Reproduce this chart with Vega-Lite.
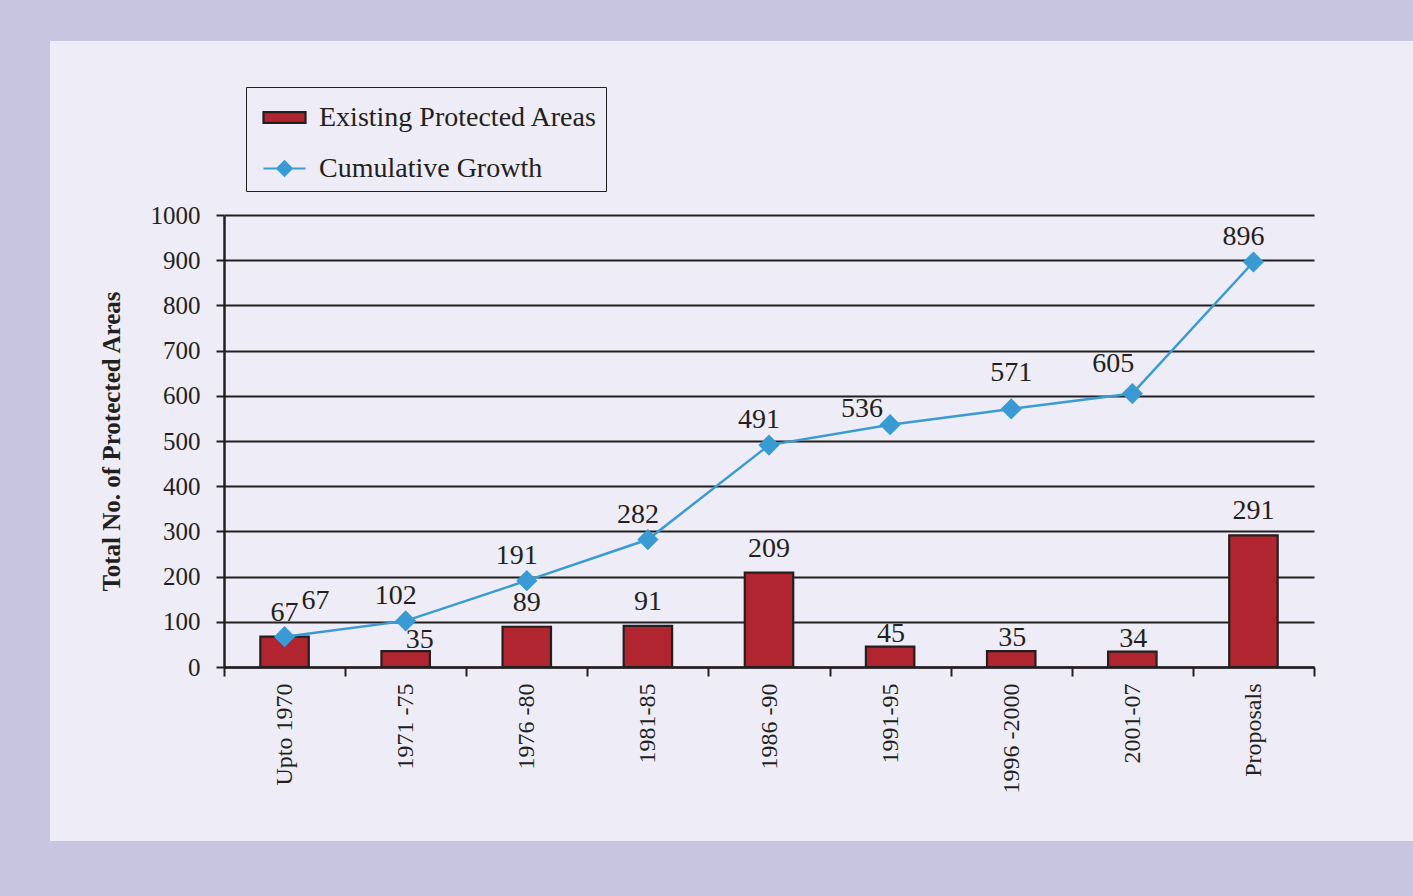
{
  "$schema": "https://vega.github.io/schema/vega-lite/v6.json",
  "width": 1090,
  "height": 452,
  "autosize": {"type": "none"},
  "padding": {"left": 224, "top": 215, "right": 99, "bottom": 229},
  "background": "#c8c5e1",
  "config": {
    "font": "Liberation Serif",
    "view": {"fill": "#eeecf6", "stroke": "#eeecf6", "strokeWidth": 348},
    "axis": {"labelFont": "Liberation Serif", "titleFont": "Liberation Serif", "labelColor": "#231f20", "titleColor": "#231f20"}
  },
  "data": {
    "values": [
      {"period": "Upto 1970", "series": "Existing Protected Areas", "value": 67},
      {"period": "1971 -75", "series": "Existing Protected Areas", "value": 35},
      {"period": "1976 -80", "series": "Existing Protected Areas", "value": 89},
      {"period": "1981-85", "series": "Existing Protected Areas", "value": 91},
      {"period": "1986 -90", "series": "Existing Protected Areas", "value": 209},
      {"period": "1991-95", "series": "Existing Protected Areas", "value": 45},
      {"period": "1996 -2000", "series": "Existing Protected Areas", "value": 35},
      {"period": "2001-07", "series": "Existing Protected Areas", "value": 34},
      {"period": "Proposals", "series": "Existing Protected Areas", "value": 291},
      {"period": "Upto 1970", "series": "Cumulative Growth", "value": 67},
      {"period": "1971 -75", "series": "Cumulative Growth", "value": 102},
      {"period": "1976 -80", "series": "Cumulative Growth", "value": 191},
      {"period": "1981-85", "series": "Cumulative Growth", "value": 282},
      {"period": "1986 -90", "series": "Cumulative Growth", "value": 491},
      {"period": "1991-95", "series": "Cumulative Growth", "value": 536},
      {"period": "1996 -2000", "series": "Cumulative Growth", "value": 571},
      {"period": "2001-07", "series": "Cumulative Growth", "value": 605},
      {"period": "Proposals", "series": "Cumulative Growth", "value": 896}
    ]
  },
  "encoding": {
    "x": {
      "field": "period", "type": "nominal",
      "scale": {"domain": ["Upto 1970", "1971 -75", "1976 -80", "1981-85", "1986 -90", "1991-95", "1996 -2000", "2001-07", "Proposals"], "paddingInner": 0, "paddingOuter": 0},
      "axis": {"title": null, "labelAngle": -90, "labelFontSize": 24, "labelPadding": 7, "tickBand": "extent", "tickSize": 9, "tickWidth": 2, "tickColor": "#231f20", "domainColor": "#231f20", "domainWidth": 2.5, "grid": false}
    },
    "y": {
      "field": "value", "type": "quantitative",
      "scale": {"domain": [0, 1000]},
      "axis": {"title": "Total No. of Protected Areas", "titleFontSize": 25, "titleFontWeight": "bold", "titlePadding": 26, "values": [0,100,200,300,400,500,600,700,800,900,1000], "format": "d", "labelFontSize": 25, "labelPadding": 16, "tickSize": 8, "tickWidth": 2, "tickColor": "#231f20", "domainColor": "#231f20", "domainWidth": 2.5, "grid": true, "gridColor": "#231f20", "gridWidth": 2.2, "gridOpacity": 1}
    }
  },
  "layer": [
    {
      "transform": [{"filter": "datum.series === 'Existing Protected Areas'"}],
      "mark": {"type": "bar", "width": {"band": 0.4}},
      "encoding": {
        "color": {
          "field": "series", "type": "nominal",
          "scale": {"domain": ["Existing Protected Areas", "Cumulative Growth"], "range": ["#b0252f", "#3a9ad3"]},
          "legend": {
            "title": null, "orient": "none", "legendX": 22, "legendY": -128,
            "labelFontSize": 28, "labelFont": "Liberation Serif", "labelColor": "#231f20", "labelOffset": 12,
            "symbolSize": 1764, "symbolOffset": 8, "rowPadding": 14, "padding": 8,
            "strokeColor": "#231f20", "fillColor": "#eeecf6",
            "labelLimit": 400,
            "symbolOpacity": 1,
            "symbolStrokeWidth": 2.2,
            "symbolType": {"expr": "datum.value === 'Existing Protected Areas' ? 'M-1,-0.26H1V0.26H-1Z' : 'M-1,0H1M0,-0.34L0.34,0L0,0.34L-0.34,0Z'"},
            "symbolStrokeColor": {"expr": "datum.value === 'Existing Protected Areas' ? '#231f20' : '#3a9ad3'"}
          }
        }
      }
    },
    {
      "transform": [{"filter": "datum.series === 'Existing Protected Areas'"}],
      "mark": {"type": "bar", "width": {"band": 0.4}, "filled": false, "color": "#231f20", "strokeWidth": 2.2},
      "encoding": {}
    },
    {
      "transform": [{"filter": "datum.series === 'Cumulative Growth'"}],
      "mark": {"type": "line", "color": "#3a9ad3", "strokeWidth": 2.5, "point": {"shape": "diamond", "size": 450, "filled": true, "color": "#3a9ad3", "opacity": 1}},
      "encoding": {}
    },
    {
      "transform": [{"filter": "datum.series === 'Existing Protected Areas' && datum.value > 60"}],
      "mark": {"type": "text", "fontSize": 28, "color": "#231f20", "baseline": "middle", "dy": -24},
      "encoding": {"text": {"field": "value", "type": "quantitative"}}
    },
    {
      "transform": [{"filter": "datum.series === 'Existing Protected Areas' && datum.value <= 60 && datum.period !== '1971 -75'"}],
      "mark": {"type": "text", "fontSize": 28, "color": "#231f20", "baseline": "middle", "dy": -13, "dx": 1},
      "encoding": {"text": {"field": "value", "type": "quantitative"}}
    },
    {
      "transform": [{"filter": "datum.series === 'Existing Protected Areas' && datum.period === '1971 -75'"}],
      "mark": {"type": "text", "fontSize": 28, "color": "#231f20", "baseline": "middle", "dy": -11, "dx": 14},
      "encoding": {"text": {"field": "value", "type": "quantitative"}}
    },
    {
      "transform": [{"filter": "datum.series === 'Cumulative Growth' && indexof(['Upto 1970','1991-95','1996 -2000','2001-07'], datum.period) < 0"}],
      "mark": {"type": "text", "fontSize": 28, "color": "#231f20", "baseline": "middle", "dy": -25, "dx": -10},
      "encoding": {"text": {"field": "value", "type": "quantitative"}}
    },
    {
      "transform": [{"filter": "datum.series === 'Cumulative Growth' && datum.period === 'Upto 1970'"}],
      "mark": {"type": "text", "fontSize": 28, "color": "#231f20", "baseline": "middle", "dy": -36, "dx": 31},
      "encoding": {"text": {"field": "value", "type": "quantitative"}}
    },
    {
      "transform": [{"filter": "datum.series === 'Cumulative Growth' && datum.period === '1991-95'"}],
      "mark": {"type": "text", "fontSize": 28, "color": "#231f20", "baseline": "middle", "dy": -16, "dx": -28},
      "encoding": {"text": {"field": "value", "type": "quantitative"}}
    },
    {
      "transform": [{"filter": "datum.series === 'Cumulative Growth' && datum.period === '1996 -2000'"}],
      "mark": {"type": "text", "fontSize": 28, "color": "#231f20", "baseline": "middle", "dy": -36, "dx": 0},
      "encoding": {"text": {"field": "value", "type": "quantitative"}}
    },
    {
      "transform": [{"filter": "datum.series === 'Cumulative Growth' && datum.period === '2001-07'"}],
      "mark": {"type": "text", "fontSize": 28, "color": "#231f20", "baseline": "middle", "dy": -30, "dx": -19},
      "encoding": {"text": {"field": "value", "type": "quantitative"}}
    }
  ]
}
